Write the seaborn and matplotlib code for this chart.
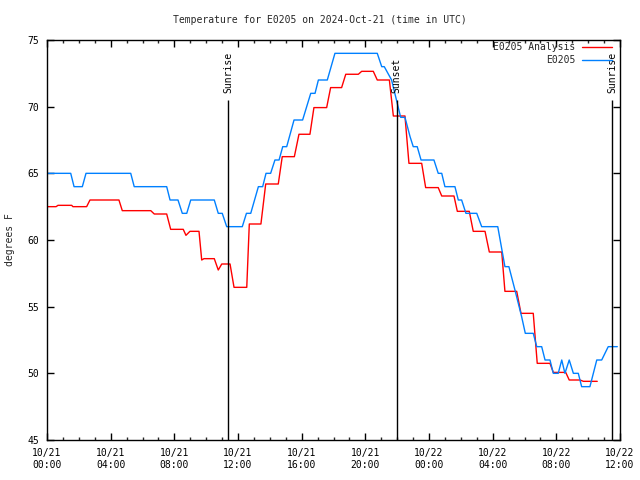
import matplotlib
matplotlib.use("Agg")
import matplotlib.dates as mdates
import matplotlib.pyplot as plt
import pandas as pd
import seaborn as sns

START = pd.Timestamp("2024-10-21 00:00")
END = pd.Timestamp("2024-10-22 12:00")

# E0205 Analysis (hours after 10/21 00:00 UTC, degrees F)
analysis_hours = [0.00, 0.57, 0.69, 1.55, 1.63, 2.49, 2.70, 4.52, 4.73, 6.52,
                  6.74, 7.52, 7.77, 8.56, 8.73, 8.98, 9.55, 9.72, 9.86, 10.51,
                  10.76, 10.98, 11.50, 11.75, 12.55, 12.71, 13.44, 13.74, 14.53, 14.78,
                  15.54, 15.83, 16.52, 16.77, 17.57, 17.82, 18.51, 18.77, 19.56, 19.77,
                  20.50, 20.75, 21.51, 21.76, 22.49, 22.74, 23.54, 23.79, 24.58, 24.80,
                  25.57, 25.78, 26.53, 26.78, 27.52, 27.79, 28.57, 28.77, 29.51, 29.78,
                  30.55, 30.80, 31.60, 31.81, 32.59, 32.81, 33.49, 33.70, 34.57]
analysis_temps = [62.5, 62.5, 62.6, 62.6, 62.5, 62.5, 63.0, 63.0, 62.2, 62.2,
                  61.95, 61.95, 60.8, 60.8, 60.35, 60.65, 60.65, 58.5, 58.6, 58.6,
                  57.75, 58.2, 58.2, 56.45, 56.45, 61.2, 61.2, 64.2, 64.2, 66.25,
                  66.25, 67.93, 67.93, 69.93, 69.93, 71.43, 71.43, 72.43, 72.43, 72.65,
                  72.65, 72.0, 72.0, 69.3, 69.3, 65.75, 65.75, 63.93, 63.93, 63.3,
                  63.3, 62.15, 62.15, 60.65, 60.65, 59.1, 59.1, 56.15, 56.15, 54.5,
                  54.5, 50.75, 50.75, 50.07, 50.07, 49.5, 49.5, 49.4, 49.4]

# E0205 observations
obs_hours = [0.00, 1.49, 1.70, 2.22, 2.45, 5.26, 5.48, 7.52, 7.73, 8.23,
             8.50, 8.78, 9.03, 10.51, 10.76, 11.01, 11.29, 12.27, 12.53, 12.80,
             13.28, 13.55, 13.76, 14.05, 14.32, 14.58, 14.81, 15.06, 15.52, 16.06,
             16.57, 16.84, 17.05, 17.61, 18.09, 20.75, 21.03, 21.19, 21.65, 22.22,
             22.49, 22.81, 23.01, 23.26, 23.50, 24.31, 24.58, 24.80, 25.00, 25.63,
             25.84, 26.05, 26.32, 27.00, 27.31, 28.32, 28.77, 29.02, 29.40, 29.82,
             30.05, 30.55, 30.77, 31.08, 31.29, 31.60, 31.81, 32.12, 32.34, 32.54,
             32.81, 33.07, 33.38, 33.59, 34.11, 34.54, 34.85, 35.26, 35.83]
obs_temps = [65, 65, 64, 64, 65, 65, 64, 64, 63, 63,
             62, 62, 63, 63, 62, 62, 61, 61, 62, 62,
             64, 64, 65, 65, 66, 66, 67, 67, 69, 69,
             71, 71, 72, 72, 74, 74, 73, 73, 72, 69.2,
             69.2, 67.75, 67, 67, 66, 66, 65, 65, 64, 64,
             63, 63, 62, 62, 61, 61, 58, 58, 56.25, 54.25,
             53, 53, 52, 52, 51, 51, 50, 50, 51, 50,
             51, 50, 50, 49, 49, 51, 51, 52, 52]

sun_hours = [11.39, 21.97, 35.51]
sun_labels = ["Sunrise", "Sunset", "Sunrise"]


def to_frame(hours, temps, name):
    return pd.DataFrame({
        "time": START + pd.to_timedelta(hours, unit="h"),
        "temp": temps,
        "series": name,
    })


df = pd.concat([
    to_frame(analysis_hours, analysis_temps, "E0205 Analysis"),
    to_frame(obs_hours, obs_temps, "E0205"),
], ignore_index=True)

sns.set_style("ticks")
plt.rcParams["font.family"] = ["DejaVu Sans Mono"]
plt.rcParams["font.size"] = 7
plt.rcParams["xtick.direction"] = "in"
plt.rcParams["ytick.direction"] = "in"

fig = plt.figure(figsize=(6.4, 4.8), dpi=100)
ax = fig.add_axes([47 / 640, 40 / 480, 573 / 640, 400 / 480])

sns.lineplot(
    data=df, x="time", y="temp", hue="series",
    hue_order=["E0205 Analysis", "E0205"],
    palette={"E0205 Analysis": "#ff0000", "E0205": "#0080ff"},
    estimator=None, sort=False, linewidth=1.0, ax=ax,
)

# sunrise / sunset markers
sun_times = START + pd.to_timedelta(sun_hours, unit="h")
ax.vlines(sun_times, 45, 70.5, color="black", linewidth=1.0)
for t, lab in zip(sun_times, sun_labels):
    ax.text(t, 71.0, lab, rotation=90, ha="center", va="bottom",
            fontsize=7, color="black")

ax.set_xlim(START, END)
ax.set_ylim(45, 75)
ax.set_yticks(range(45, 76, 5))
ax.xaxis.set_major_locator(mdates.HourLocator(byhour=range(0, 24, 4)))
ax.xaxis.set_minor_locator(mdates.HourLocator())
ax.xaxis.set_major_formatter(mdates.DateFormatter("%m/%d\n%H:%M"))
for lbl in ax.get_xticklabels():
    lbl.set_linespacing(1.35)
ax.tick_params(axis="both", which="major", length=5, width=1, pad=5.5,
               top=True, right=True, colors="black", labelsize=7)
ax.tick_params(axis="x", which="minor", length=2.5, width=1,
               top=True, bottom=True)
for s in ax.spines.values():
    s.set_color("black")
    s.set_linewidth(1)
ax.set_xlabel("")
ax.set_ylabel("")

handles, labels = ax.get_legend_handles_labels()
ax.legend(handles, labels, loc="upper right", bbox_to_anchor=(0.986, 0.995),
          frameon=False, markerfirst=False, borderaxespad=0, borderpad=0,
          handlelength=3.1, handletextpad=0.7, labelspacing=0.3, fontsize=7)

fig.text(0.5, 1 - 20 / 480, "Temperature for E0205 on 2024-Oct-21 (time in UTC)",
         ha="center", va="center", fontsize=7)
fig.text(10 / 640, 0.5, "degrees F", rotation=90, ha="center", va="center",
         fontsize=7)

fig.savefig("out.png", dpi=100)
